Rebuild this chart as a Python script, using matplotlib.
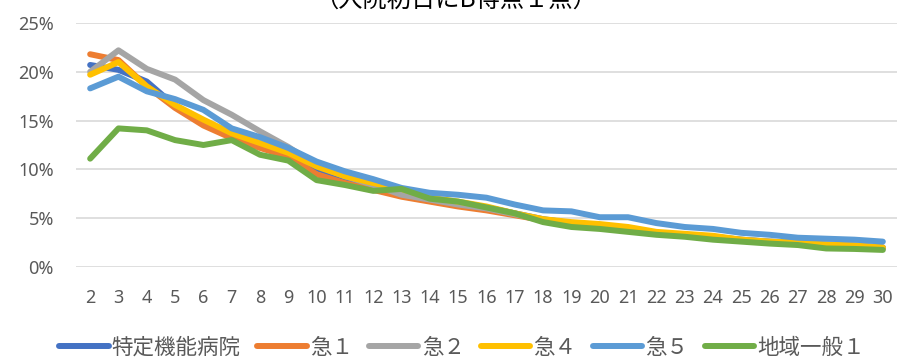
import matplotlib
matplotlib.use("Agg")
import matplotlib.pyplot as plt
from matplotlib.ticker import FuncFormatter, MultipleLocator

days = list(range(2, 31))
day_labels = [str(d) for d in days]

series_names = ["特定機能病院", "急１", "急２", "急４", "急５", "地域一般１"]

tokutei = [20.7, 20.2, 19.0, 16.5, 14.9, 13.4, 12.4, 11.6, 10.1, 9.1, 8.3, 7.6, 7.0, 6.6, 6.1,
           5.5, 4.9, 4.5, 4.3, 4.0, 3.5, 3.3, 3.1, 2.8, 2.6, 2.5, 2.3, 2.2, 2.0]
kyu1 = [21.8, 21.2, 18.5, 16.3, 14.5, 13.2, 12.2, 11.3, 9.5, 8.6, 7.9, 7.2, 6.7, 6.2, 5.8,
        5.3, 4.8, 4.3, 4.1, 3.8, 3.4, 3.2, 3.0, 2.7, 2.5, 2.4, 2.2, 2.1, 1.9]
kyu2 = [20.0, 22.2, 20.3, 19.2, 17.1, 15.6, 13.9, 12.3, 10.4, 9.3, 8.4, 7.4, 6.9, 6.4, 6.0,
        5.4, 4.8, 4.4, 4.2, 3.9, 3.4, 3.2, 3.0, 2.8, 2.6, 2.4, 2.3, 2.2, 2.0]
kyu4 = [19.7, 21.0, 18.5, 16.6, 15.1, 13.7, 12.7, 11.7, 10.3, 9.3, 8.6, 8.0, 7.1, 6.7, 6.2,
        5.5, 4.9, 4.6, 4.4, 4.1, 3.6, 3.4, 3.2, 2.8, 2.6, 2.5, 2.3, 2.2, 2.0]
kyu5 = [18.3, 19.5, 18.0, 17.2, 16.1, 14.2, 13.3, 12.2, 10.8, 9.8, 9.0, 8.1, 7.6, 7.4, 7.1,
        6.4, 5.8, 5.7, 5.1, 5.1, 4.5, 4.1, 3.9, 3.5, 3.3, 3.0, 2.9, 2.8, 2.6]
chiiki1 = [11.1, 14.2, 14.0, 13.0, 12.5, 13.0, 11.5, 10.9, 8.9, 8.4, 7.8, 8.0, 7.0, 6.7, 6.1,
           5.5, 4.6, 4.1, 3.9, 3.6, 3.3, 3.1, 2.8, 2.6, 2.4, 2.25, 1.9, 1.85, 1.75]

colors = ["#4472C4", "#ED7D31", "#A5A5A5", "#FFC000", "#5B9BD5", "#70AD47"]
all_series = [tokutei, kyu1, kyu2, kyu4, kyu5, chiiki1]

num_font = ["Noto Sans", "DejaVu Sans"]
cjk_font = ["Noto Sans CJK JP", "DejaVu Sans"]

fig = plt.figure(figsize=(8.97, 3.61), dpi=100)
ax = fig.add_axes([76 / 897, 1 - 267 / 361, 1 - 76 / 897, (267 - 23) / 361])

x = list(range(len(days)))
for name, vals, c in zip(series_names, all_series, colors):
    ax.plot(x, vals, color=c, linewidth=4.3, label=name, solid_capstyle="round",
            solid_joinstyle="round")

ax.set_xlim(-0.5, len(days) - 0.5)
ax.set_ylim(0, 25)
ax.yaxis.set_major_locator(MultipleLocator(5))
ax.yaxis.set_major_formatter(FuncFormatter(lambda v, p: f"{int(v)}%"))
ax.set_xticks(x)
ax.set_xticklabels(day_labels)
ax.grid(axis="y", color="#D9D9D9", linewidth=1.2)
ax.set_axisbelow(True)
for s in ax.spines.values():
    s.set_visible(False)
ax.tick_params(axis="both", length=0, colors="#595959")
ax.tick_params(axis="y", pad=16)
ax.tick_params(axis="x", pad=16)
for lab in ax.get_yticklabels() + ax.get_xticklabels():
    lab.set_family(num_font)
    lab.set_fontsize(13)
    lab.set_color("#595959")

leg = fig.legend(loc="center", bbox_to_anchor=(462 / 897, 1 - 348 / 361), ncol=6,
                 frameon=False, handlelength=2.3, handletextpad=0.15, columnspacing=0.75,
                 borderpad=0, prop={"family": cjk_font, "size": 15.5})
for t in leg.get_texts():
    t.set_color("#595959")
for h in leg.get_lines():
    h.set_linewidth(4.3)

fig.text(456 / 897, 1 - 7.5 / 361, "（入院初日にB得点１点）", ha="center", va="baseline",
         family=cjk_font, fontsize=17.5, color="#000000")

fig.savefig("out.png", dpi=100)
